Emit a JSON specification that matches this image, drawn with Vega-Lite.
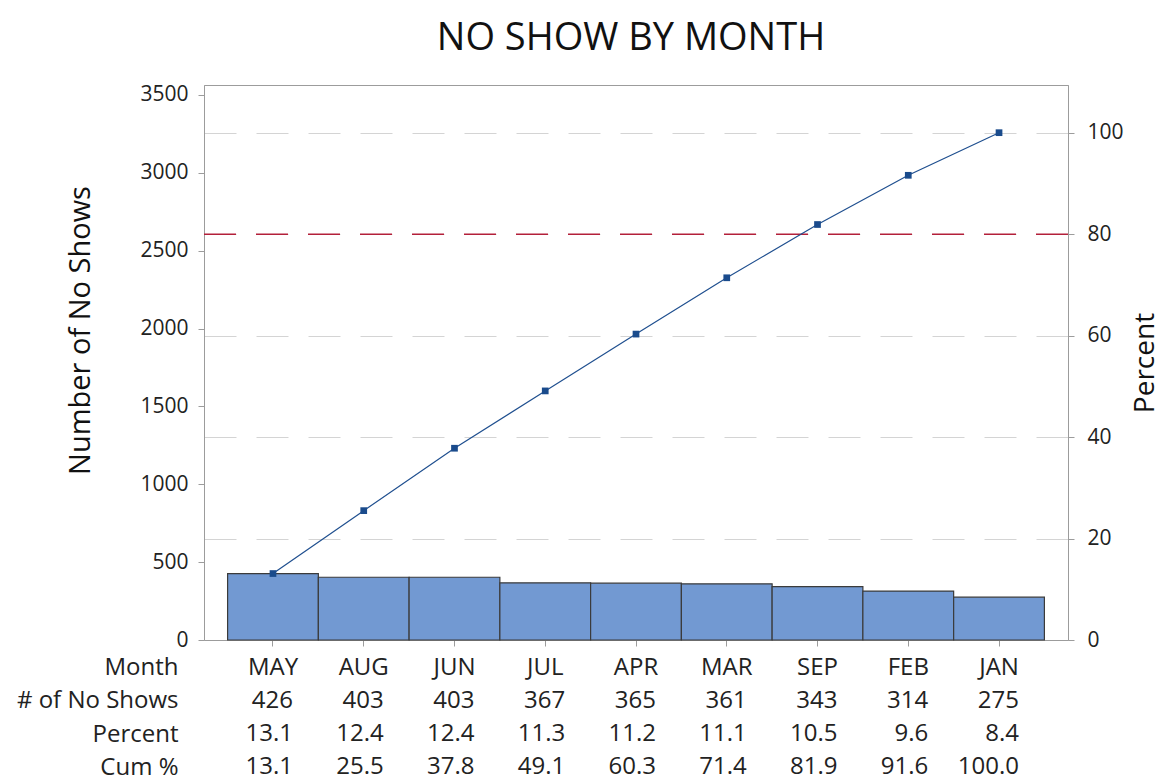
{
  "$schema": "https://vega.github.io/schema/vega-lite/v6.json",
  "background": "white",
  "padding": {"left": 16, "top": 19, "right": 4, "bottom": 0},
  "spacing": 0,
  "config": {
    "font": "Open Sans",
    "view": {"stroke": "#9c9c9c", "strokeWidth": 1},
    "axis": {
      "labelFont": "Open Sans",
      "titleFont": "Open Sans",
      "labelColor": "#222222",
      "titleColor": "#111111",
      "domainColor": "#9c9c9c",
      "tickColor": "#9c9c9c",
      "labelFontSize": 21,
      "titleFontSize": 28,
      "titleFontWeight": "normal"
    }
  },
  "datasets": {
    "d": [
      {"month": "MAY", "count": 426, "pct": 13.1, "cum": 13.1},
      {"month": "AUG", "count": 403, "pct": 12.4, "cum": 25.5},
      {"month": "JUN", "count": 403, "pct": 12.4, "cum": 37.8},
      {"month": "JUL", "count": 367, "pct": 11.3, "cum": 49.1},
      {"month": "APR", "count": 365, "pct": 11.2, "cum": 60.3},
      {"month": "MAR", "count": 361, "pct": 11.1, "cum": 71.4},
      {"month": "SEP", "count": 343, "pct": 10.5, "cum": 81.9},
      {"month": "FEB", "count": 314, "pct": 9.6, "cum": 91.6},
      {"month": "JAN", "count": 275, "pct": 8.4, "cum": 100.0}
    ]
  },
  "vconcat": [
    {
      "width": 864,
      "height": 555,
      "data": {"name": "d"},
      "title": {
        "text": "NO SHOW BY MONTH",
        "fontSize": 38,
        "fontWeight": "normal",
        "font": "Open Sans",
        "color": "#111111",
        "anchor": "middle",
        "frame": "group",
        "offset": 26,
        "dx": -5
      },
      "layer": [
        {
          "mark": {"type": "bar", "fill": "#7299d2", "stroke": "#3b3b3b", "strokeWidth": 1.2},
          "encoding": {
            "x": {
              "field": "month", "type": "nominal", "sort": null,
              "scale": {"type": "band", "paddingInner": 0, "paddingOuter": 0.26},
              "axis": {"labels": false, "title": null, "tickSize": 6, "domain": true}
            },
            "y": {
              "field": "count", "type": "quantitative",
              "scale": {"domain": [0, 3564], "nice": false, "zero": true},
              "axis": {
                "values": [0, 500, 1000, 1500, 2000, 2500, 3000, 3500],
                "format": "d",
                "title": "Number of No Shows",
                "titleFontSize": 29,
                "titleY": 245,
                "grid": false, "tickSize": 6, "labelPadding": 10, "titlePadding": 44
              }
            }
          }
        },
        {
          "encoding": {
            "y": {
              "field": "cum", "type": "quantitative",
              "scale": {"domain": [0, 109.4], "nice": false},
              "axis": {
                "orient": "right",
                "values": [0, 20, 40, 60, 80, 100],
                "title": "Percent",
                "titleAngle": 270,
                "titleBaseline": "top",
                "grid": true, "gridDash": [32, 20], "gridColor": "#d4d4d4",
                "tickSize": 6, "labelPadding": 13, "titlePadding": 8
              }
            }
          },
          "layer": [
            {
              "data": {"values": [{"ref": 80}]},
              "mark": {"type": "rule", "color": "#b3203a", "strokeDash": [32, 20], "strokeWidth": 1.5},
              "encoding": {"y": {"field": "ref", "type": "quantitative"}}
            },
            {
              "mark": {"type": "line", "color": "#1f4f8f", "strokeWidth": 1.2},
              "encoding": {"x": {"field": "month", "type": "nominal", "sort": null}}
            },
            {
              "mark": {"type": "point", "shape": "square", "filled": true, "size": 45, "color": "#1a4b8c", "opacity": 1},
              "encoding": {"x": {"field": "month", "type": "nominal", "sort": null}}
            }
          ]
        }
      ],
      "resolve": {"scale": {"y": "independent"}}
    },
    {
      "width": 864,
      "height": 133,
      "view": {"stroke": null},
      "data": {"name": "d"},
      "encoding": {
        "x": {
          "field": "month", "type": "nominal", "sort": null,
          "scale": {"type": "band", "paddingInner": 0, "paddingOuter": 0.26},
          "axis": null
        }
      },
      "layer": [
        {
          "mark": {"type": "text", "fontSize": 24, "color": "#222222", "align": "center", "baseline": "middle"},
          "encoding": {
            "y": {
              "datum": "Month", "type": "ordinal",
              "scale": {"domain": ["Month", "# of No Shows", "Percent", "Cum %"]},
              "axis": {"title": null, "domain": false, "ticks": false, "labelPadding": 26, "labelFontSize": 24, "labelColor": "#222222"}
            },
            "text": {"field": "month"}
          }
        },
        {
          "mark": {"type": "text", "fontSize": 24, "color": "#222222", "align": "right", "baseline": "middle", "dx": 20},
          "encoding": {
            "y": {"datum": "# of No Shows", "type": "ordinal"},
            "text": {"field": "count", "type": "quantitative", "format": "d"}
          }
        },
        {
          "mark": {"type": "text", "fontSize": 24, "color": "#222222", "align": "right", "baseline": "middle", "dx": 20},
          "encoding": {
            "y": {"datum": "Percent", "type": "ordinal"},
            "text": {"field": "pct", "type": "quantitative", "format": ".1f"}
          }
        },
        {
          "mark": {"type": "text", "fontSize": 24, "color": "#222222", "align": "right", "baseline": "middle", "dx": 20},
          "encoding": {
            "y": {"datum": "Cum %", "type": "ordinal"},
            "text": {"field": "cum", "type": "quantitative", "format": ".1f"}
          }
        }
      ]
    }
  ]
}
